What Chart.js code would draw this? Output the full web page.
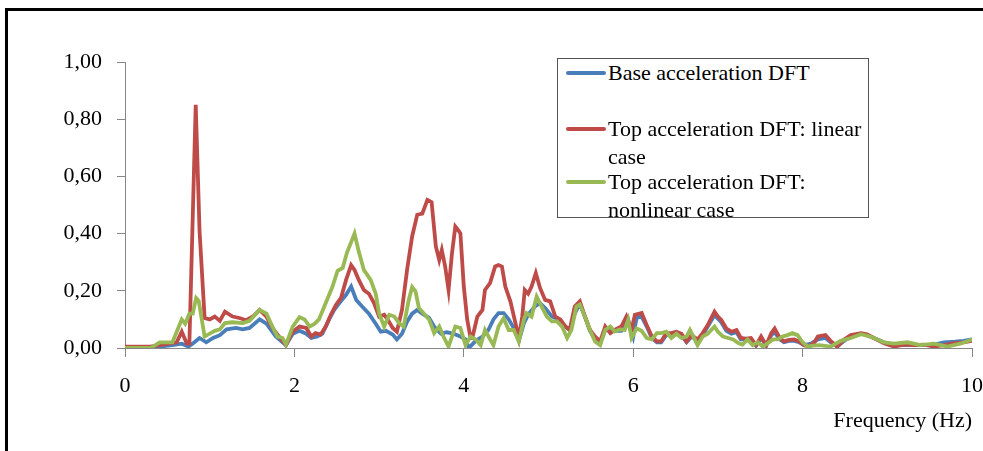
<!DOCTYPE html>
<html>
<head>
<meta charset="utf-8">
<title>DFT of base and top acceleration</title>
<script src="https://cdn.jsdelivr.net/npm/chart.js@4.4.1/dist/chart.umd.min.js"></script>
<style>
  html, body { margin: 0; padding: 0; background: #fff; }
  #wrap { position: relative; width: 983px; height: 451px; overflow: hidden; }
  #frame {
    position: absolute; left: 5px; top: 8px; width: 1000px; height: 500px;
    border-top: 3px solid #000; border-left: 3px solid #000;
  }
  #legend {
    position: absolute; left: 557px; top: 58px; width: 310px; height: 158px;
    border: 1px solid #555; background: #fff;
    font-family: 'Liberation Serif', 'Times New Roman', serif; font-size: 22px; color: #000;
  }
  .entry { position: absolute; left: 0; white-space: nowrap; }
  .swatch { position: absolute; left: 8px; width: 40px; height: 4px; border-radius: 2px; }
  .label { position: absolute; left: 50px; line-height: 28px; }
</style>
</head>
<body>
<div id="wrap">
  <div id="frame"></div>
  <canvas id="chart" width="983" height="451"></canvas>
  <div id="legend"></div>
</div>
<script>
// ============================================================================
// Data
// ============================================================================

const xTicks = [0, 2, 4, 6, 8, 10];
const yTickLabels = ['0,00', '0,20', '0,40', '0,60', '0,80', '1,00'];

// Base acceleration DFT
const baseFreq = [0, 0.1, 0.2, 0.3, 0.41, 0.56, 0.67, 0.75, 0.82, 0.88, 0.96, 1.04, 1.12, 1.2, 1.31, 1.39, 1.47, 1.59, 1.67, 1.78, 1.9, 1.98, 2.06, 2.14, 2.2, 2.27, 2.33, 2.41, 2.47, 2.53, 2.61, 2.67, 2.73, 2.8, 2.88, 2.96, 3.02, 3.08, 3.16, 3.21, 3.27, 3.33, 3.39, 3.45, 3.51, 3.59, 3.65, 3.73, 3.8, 3.88, 3.96, 4.02, 4.06, 4.14, 4.22, 4.29, 4.35, 4.41, 4.47, 4.53, 4.59, 4.65, 4.71, 4.76, 4.84, 4.9, 4.96, 5.04, 5.12, 5.2, 5.25, 5.31, 5.37, 5.43, 5.49, 5.55, 5.61, 5.67, 5.73, 5.78, 5.86, 5.94, 6.0, 6.04, 6.1, 6.16, 6.22, 6.28, 6.33, 6.39, 6.45, 6.51, 6.57, 6.63, 6.69, 6.76, 6.82, 6.88, 6.96, 7.04, 7.1, 7.16, 7.22, 7.27, 7.33, 7.39, 7.45, 7.51, 7.57, 7.63, 7.67, 7.73, 7.78, 7.84, 7.9, 7.96, 8.02, 8.1, 8.18, 8.27, 8.33, 8.41, 8.49, 8.57, 8.69, 8.76, 8.84, 8.96, 9.08, 9.2, 9.31, 9.43, 9.55, 9.67, 9.8, 9.9, 10];
const baseAmp = [0, 0, 0, 0.003, 0.005, 0.01, 0.015, 0.005, 0.02, 0.035, 0.02, 0.035, 0.045, 0.065, 0.07, 0.065, 0.07, 0.1, 0.085, 0.04, 0.01, 0.05, 0.06, 0.05, 0.035, 0.04, 0.05, 0.1, 0.133, 0.157, 0.186, 0.215, 0.168, 0.145, 0.12, 0.085, 0.057, 0.06, 0.047, 0.03, 0.05, 0.092, 0.12, 0.133, 0.12, 0.105, 0.075, 0.05, 0.055, 0.05, 0.04, 0.03, 0.0, 0.025, 0.04, 0.063, 0.1, 0.122, 0.122, 0.1, 0.07, 0.025, 0.087, 0.117, 0.145, 0.157, 0.14, 0.11, 0.1, 0.075, 0.063, 0.12, 0.155, 0.11, 0.06, 0.03, 0.015, 0.065, 0.06, 0.06, 0.06, 0.1, 0.04, 0.105, 0.11, 0.075, 0.035, 0.02, 0.02, 0.045, 0.05, 0.05, 0.045, 0.02, 0.04, 0.025, 0.045, 0.075, 0.115, 0.09, 0.06, 0.05, 0.055, 0.03, 0.03, 0.03, 0.008, 0.035, 0.008, 0.045, 0.055, 0.03, 0.02, 0.025, 0.025, 0.02, 0.01, 0.015, 0.03, 0.035, 0.02, 0.005, 0.025, 0.04, 0.05, 0.045, 0.035, 0.02, 0.01, 0.01, 0.012, 0.01, 0.012, 0.02, 0.022, 0.025, 0.03];

// Top acceleration DFT: linear case
const linearFreq = [0, 0.3, 0.41, 0.61, 0.67, 0.73, 0.76, 0.835, 0.88, 0.94, 1.0, 1.06, 1.12, 1.18, 1.27, 1.35, 1.43, 1.51, 1.59, 1.67, 1.74, 1.82, 1.9, 1.98, 2.06, 2.14, 2.2, 2.25, 2.31, 2.37, 2.43, 2.49, 2.55, 2.61, 2.67, 2.71, 2.76, 2.82, 2.88, 2.94, 3.0, 3.06, 3.1, 3.16, 3.21, 3.27, 3.33, 3.39, 3.45, 3.51, 3.57, 3.62, 3.67, 3.71, 3.74, 3.78, 3.82, 3.86, 3.9, 3.94, 3.96, 4.0, 4.04, 4.08, 4.1, 4.16, 4.22, 4.25, 4.31, 4.37, 4.41, 4.45, 4.49, 4.55, 4.61, 4.65, 4.69, 4.72, 4.76, 4.8, 4.85, 4.9, 4.96, 5.02, 5.08, 5.14, 5.2, 5.25, 5.31, 5.37, 5.43, 5.49, 5.55, 5.61, 5.67, 5.73, 5.78, 5.86, 5.92, 5.98, 6.02, 6.1, 6.16, 6.22, 6.28, 6.33, 6.39, 6.45, 6.51, 6.57, 6.63, 6.69, 6.76, 6.82, 6.88, 6.92, 6.96, 7.0, 7.04, 7.1, 7.16, 7.22, 7.27, 7.33, 7.39, 7.45, 7.51, 7.57, 7.63, 7.67, 7.73, 7.78, 7.84, 7.9, 7.96, 8.02, 8.08, 8.14, 8.18, 8.27, 8.33, 8.41, 8.49, 8.57, 8.69, 8.76, 8.84, 8.96, 9.08, 9.2, 9.31, 9.43, 9.55, 9.67, 9.8, 9.9, 10];
const linearAmp = [0.005, 0.005, 0.01, 0.02, 0.057, 0.015, 0.015, 0.85, 0.41, 0.105, 0.1, 0.11, 0.095, 0.127, 0.11, 0.105, 0.097, 0.11, 0.133, 0.11, 0.07, 0.04, 0.01, 0.057, 0.075, 0.07, 0.04, 0.052, 0.047, 0.075, 0.116, 0.15, 0.175, 0.238, 0.29, 0.273, 0.238, 0.203, 0.19, 0.157, 0.11, 0.116, 0.1, 0.07, 0.057, 0.133, 0.273, 0.39, 0.466, 0.47, 0.518, 0.51, 0.355, 0.308, 0.343, 0.285, 0.203, 0.33, 0.425, 0.41, 0.4, 0.215, 0.1, 0.035, 0.035, 0.11, 0.133, 0.203, 0.227, 0.285, 0.29, 0.285, 0.215, 0.163, 0.087, 0.035, 0.11, 0.203, 0.19, 0.215, 0.262, 0.21, 0.168, 0.163, 0.11, 0.1, 0.075, 0.063, 0.145, 0.163, 0.11, 0.063, 0.04, 0.023, 0.075, 0.052, 0.063, 0.075, 0.11, 0.063, 0.116, 0.122, 0.08, 0.04, 0.023, 0.023, 0.052, 0.052, 0.057, 0.05, 0.023, 0.045, 0.03, 0.052, 0.08, 0.104, 0.127, 0.11, 0.098, 0.068, 0.057, 0.063, 0.035, 0.033, 0.035, 0.01, 0.04, 0.01, 0.052, 0.068, 0.035, 0.023, 0.028, 0.03, 0.023, 0.01, 0.005, 0.02, 0.04, 0.045, 0.025, 0.005, 0.03, 0.045, 0.052, 0.048, 0.035, 0.017, 0.005, 0.012, 0.01, 0.012, 0.005, 0.01, 0.017, 0.02, 0.025];

// Top acceleration DFT: nonlinear case
const nonlinFreq = [0, 0.3, 0.41, 0.56, 0.67, 0.71, 0.76, 0.8, 0.84, 0.87, 0.94, 1.0, 1.06, 1.12, 1.18, 1.27, 1.39, 1.47, 1.59, 1.67, 1.74, 1.8, 1.86, 1.9, 1.98, 2.06, 2.12, 2.18, 2.24, 2.29, 2.37, 2.45, 2.51, 2.57, 2.62, 2.71, 2.76, 2.82, 2.9, 2.96, 3.0, 3.06, 3.12, 3.18, 3.24, 3.29, 3.35, 3.39, 3.43, 3.47, 3.53, 3.59, 3.65, 3.71, 3.76, 3.82, 3.9, 3.96, 4.02, 4.08, 4.14, 4.2, 4.25, 4.31, 4.35, 4.41, 4.47, 4.53, 4.59, 4.65, 4.71, 4.74, 4.8, 4.86, 4.92, 4.98, 5.04, 5.1, 5.16, 5.22, 5.27, 5.33, 5.37, 5.43, 5.49, 5.55, 5.61, 5.67, 5.73, 5.78, 5.84, 5.9, 5.94, 5.98, 6.04, 6.1, 6.16, 6.22, 6.28, 6.33, 6.39, 6.45, 6.51, 6.57, 6.63, 6.67, 6.71, 6.76, 6.82, 6.88, 6.96, 7.0, 7.06, 7.12, 7.18, 7.24, 7.29, 7.35, 7.41, 7.47, 7.53, 7.59, 7.65, 7.71, 7.76, 7.82, 7.88, 7.94, 8.0, 8.06, 8.12, 8.2, 8.33, 8.45, 8.57, 8.69, 8.8, 8.96, 9.08, 9.24, 9.39, 9.55, 9.71, 9.86, 10];
const nonlinAmp = [0, 0, 0.02, 0.02, 0.1, 0.085, 0.12, 0.12, 0.175, 0.165, 0.04, 0.05, 0.06, 0.065, 0.087, 0.09, 0.087, 0.095, 0.133, 0.12, 0.075, 0.04, 0.035, 0.012, 0.075, 0.108, 0.1, 0.075, 0.085, 0.1, 0.157, 0.215, 0.27, 0.28, 0.333, 0.4, 0.337, 0.273, 0.238, 0.19, 0.12, 0.075, 0.116, 0.11, 0.085, 0.075, 0.168, 0.213, 0.198, 0.14, 0.12, 0.1, 0.052, 0.075, 0.04, 0.005, 0.075, 0.07, 0.01, 0.04, 0.03, 0.01, 0.063, 0.03, 0.01, 0.075, 0.104, 0.063, 0.063, 0.023, 0.1, 0.122, 0.11, 0.18, 0.145, 0.11, 0.093, 0.093, 0.075, 0.035, 0.063, 0.145, 0.152, 0.11, 0.063, 0.023, 0.01, 0.063, 0.075, 0.058, 0.065, 0.063, 0.098, 0.035, 0.068, 0.06, 0.035, 0.03, 0.052, 0.052, 0.057, 0.035, 0.05, 0.035, 0.04, 0.063, 0.04, 0.01, 0.04, 0.05, 0.075, 0.057, 0.04, 0.035, 0.03, 0.017, 0.012, 0.03, 0.01, 0.02, 0.005, 0.017, 0.03, 0.03, 0.04, 0.045, 0.052, 0.045, 0.02, 0.005, 0.008, 0.01, 0.005, 0.025, 0.035, 0.048, 0.04, 0.02, 0.015, 0.02, 0.01, 0.015, 0.005, 0.015, 0.03];

// ============================================================================
// Theme
// ============================================================================

const colors = {
  base: '#4A7EBB',
  linear: '#BE4B48',
  nonlinear: '#98B954',
  axis: '#868686',
  text: '#000000',
};

const serif = "'Liberation Serif', 'Times New Roman', serif";

function toPoints(freq, amp) {
  return freq.map((f, i) => ({ x: f, y: amp[i] }));
}

function lineDataset(label, freq, amp, color, order) {
  return {
    label: label,
    data: toPoints(freq, amp),
    borderColor: color,
    backgroundColor: color,
    borderWidth: 3.8,
    pointRadius: 0,
    tension: 0,
    fill: false,
    order: order,
  };
}

// ============================================================================
// Chart
// ============================================================================

const series = [
  { label: 'Base acceleration DFT', color: colors.base, lines: ['Base acceleration DFT'], top: 0 },
  { label: 'Top acceleration DFT: linear case', color: colors.linear, lines: ['Top acceleration DFT: linear', 'case'], top: 56 },
  { label: 'Top acceleration DFT: nonlinear case', color: colors.nonlinear, lines: ['Top acceleration DFT:', 'nonlinear case'], top: 109 },
];

const ctx = document.getElementById('chart').getContext('2d');

new Chart(ctx, {
  type: 'line',
  data: {
    datasets: [
      lineDataset(series[0].label, baseFreq, baseAmp, colors.base, 2),
      lineDataset(series[1].label, linearFreq, linearAmp, colors.linear, 1),
      lineDataset(series[2].label, nonlinFreq, nonlinAmp, colors.nonlinear, 0),
    ],
  },
  options: {
    responsive: false,
    animation: false,
    layout: { padding: { left: 0, top: 62, right: 11, bottom: 0 } },
    plugins: {
      legend: { display: false },
      tooltip: { enabled: false },
    },
    scales: {
      x: {
        type: 'linear',
        min: 0,
        max: 10,
        afterBuildTicks: (scale) => {
          scale.ticks = xTicks.map((v) => ({ value: v }));
        },
        afterFit: (scale) => {
          // fixed axis band; don't reserve extra room for the "10" label
          scale.height = 103;
          scale.paddingLeft = 0;
          scale.paddingRight = 0;
        },
        ticks: {
          color: colors.text,
          padding: 16,
          maxRotation: 0,
          font: { family: serif, size: 22 },
          callback: (value) => String(value),
        },
        grid: { drawOnChartArea: false, drawTicks: true, tickLength: 9, color: colors.axis },
        border: { color: colors.axis, width: 1 },
        title: {
          display: true,
          text: 'Frequency (Hz)',
          align: 'end',
          color: colors.text,
          font: { family: serif, size: 22 },
          padding: { top: 0, bottom: 17 },
        },
      },
      y: {
        min: 0,
        max: 1,
        afterBuildTicks: (scale) => {
          scale.ticks = yTickLabels.map((_, i) => ({ value: i * 0.2 }));
        },
        afterFit: (scale) => {
          scale.width = 125;
          scale.paddingTop = 0;
          scale.paddingBottom = 0;
        },
        ticks: {
          color: colors.text,
          padding: 15,
          font: { family: serif, size: 22 },
          callback: (value, index) => yTickLabels[index],
        },
        grid: { drawOnChartArea: false, drawTicks: true, tickLength: 8, color: colors.axis },
        border: { color: colors.axis, width: 1 },
      },
    },
  },
});

// ============================================================================
// Legend (boxed, with wrapped labels like the source figure)
// ============================================================================

const legendEl = document.getElementById('legend');
series.forEach((s) => {
  const entry = document.createElement('div');
  entry.className = 'entry';
  entry.style.top = s.top + 'px';

  const swatch = document.createElement('div');
  swatch.className = 'swatch';
  swatch.style.top = '12px';
  swatch.style.background = s.color;
  entry.appendChild(swatch);

  const label = document.createElement('div');
  label.className = 'label';
  label.innerHTML = s.lines.join('<br>');
  entry.appendChild(label);

  legendEl.appendChild(entry);
});
</script>
</body>
</html>
